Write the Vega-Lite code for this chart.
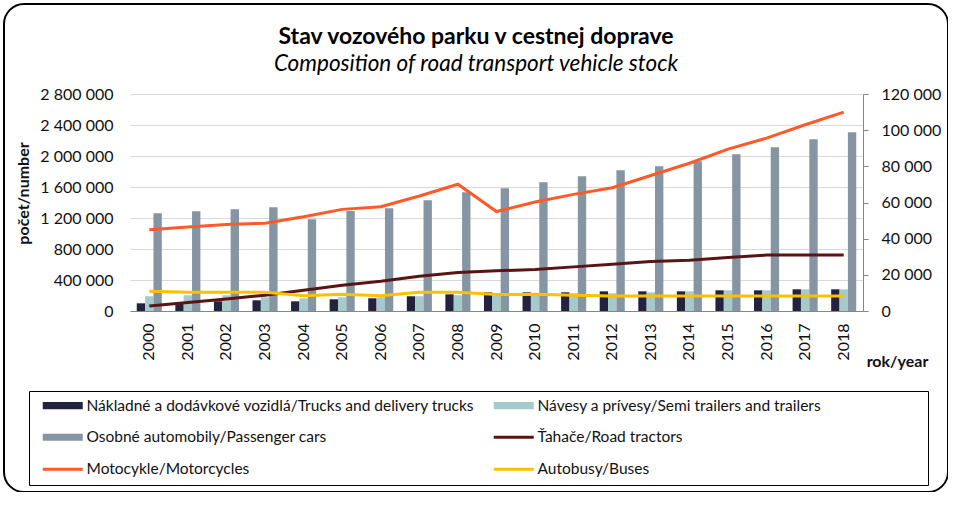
{
  "$schema": "https://vega.github.io/schema/vega-lite/v6.json",
  "width": 944,
  "height": 488,
  "autosize": {"type": "none"},
  "padding": {"left": 4, "top": 4, "right": 0, "bottom": 0},
  "background": "white",
  "config": {
    "font": "Lato",
    "locale": {"number": {"decimal": ",", "thousands": " ", "grouping": [3], "currency": ["", ""]}},
    "view": {"stroke": "#000000", "strokeWidth": 2, "cornerRadius": 20, "fill": "white"},
    "axis": {"labelFont": "Lato", "labelFontSize": 16, "labelColor": "#111111", "titleFont": "Lato", "titleColor": "#111111"}
  },
  "title": {
    "text": "Stav vozového parku v cestnej doprave",
    "subtitle": "Composition of road transport vehicle stock",
    "frame": "group",
    "anchor": "middle",
    "font": "Lato",
    "fontSize": 23,
    "fontWeight": "bold",
    "color": "#000000",
    "subtitleFont": "Lato",
    "subtitleFontSize": 22.5,
    "subtitleFontStyle": "italic",
    "subtitleColor": "#000000",
    "subtitlePadding": 4,
    "offset": -71
  },
  "datasets": {
    "bars": [
      {"year": "2000", "series": "Nákladné a dodávkové vozidlá/Trucks and delivery trucks", "value": 99000},
      {"year": "2001", "series": "Nákladné a dodávkové vozidlá/Trucks and delivery trucks", "value": 100000},
      {"year": "2002", "series": "Nákladné a dodávkové vozidlá/Trucks and delivery trucks", "value": 125000},
      {"year": "2003", "series": "Nákladné a dodávkové vozidlá/Trucks and delivery trucks", "value": 138000},
      {"year": "2004", "series": "Nákladné a dodávkové vozidlá/Trucks and delivery trucks", "value": 125000},
      {"year": "2005", "series": "Nákladné a dodávkové vozidlá/Trucks and delivery trucks", "value": 151000},
      {"year": "2006", "series": "Nákladné a dodávkové vozidlá/Trucks and delivery trucks", "value": 164000},
      {"year": "2007", "series": "Nákladné a dodávkové vozidlá/Trucks and delivery trucks", "value": 190000},
      {"year": "2008", "series": "Nákladné a dodávkové vozidlá/Trucks and delivery trucks", "value": 215000},
      {"year": "2009", "series": "Nákladné a dodávkové vozidlá/Trucks and delivery trucks", "value": 241000},
      {"year": "2010", "series": "Nákladné a dodávkové vozidlá/Trucks and delivery trucks", "value": 241000},
      {"year": "2011", "series": "Nákladné a dodávkové vozidlá/Trucks and delivery trucks", "value": 241000},
      {"year": "2012", "series": "Nákladné a dodávkové vozidlá/Trucks and delivery trucks", "value": 254000},
      {"year": "2013", "series": "Nákladné a dodávkové vozidlá/Trucks and delivery trucks", "value": 254000},
      {"year": "2014", "series": "Nákladné a dodávkové vozidlá/Trucks and delivery trucks", "value": 254000},
      {"year": "2015", "series": "Nákladné a dodávkové vozidlá/Trucks and delivery trucks", "value": 267000},
      {"year": "2016", "series": "Nákladné a dodávkové vozidlá/Trucks and delivery trucks", "value": 267000},
      {"year": "2017", "series": "Nákladné a dodávkové vozidlá/Trucks and delivery trucks", "value": 280000},
      {"year": "2018", "series": "Nákladné a dodávkové vozidlá/Trucks and delivery trucks", "value": 280000},
      {"year": "2000", "series": "Návesy a prívesy/Semi trailers and trailers", "value": 190000},
      {"year": "2001", "series": "Návesy a prívesy/Semi trailers and trailers", "value": 203000},
      {"year": "2002", "series": "Návesy a prívesy/Semi trailers and trailers", "value": 203000},
      {"year": "2003", "series": "Návesy a prívesy/Semi trailers and trailers", "value": 177000},
      {"year": "2004", "series": "Návesy a prívesy/Semi trailers and trailers", "value": 164000},
      {"year": "2005", "series": "Návesy a prívesy/Semi trailers and trailers", "value": 177000},
      {"year": "2006", "series": "Návesy a prívesy/Semi trailers and trailers", "value": 177000},
      {"year": "2007", "series": "Návesy a prívesy/Semi trailers and trailers", "value": 190000},
      {"year": "2008", "series": "Návesy a prívesy/Semi trailers and trailers", "value": 203000},
      {"year": "2009", "series": "Návesy a prívesy/Semi trailers and trailers", "value": 195000},
      {"year": "2010", "series": "Návesy a prívesy/Semi trailers and trailers", "value": 203000},
      {"year": "2011", "series": "Návesy a prívesy/Semi trailers and trailers", "value": 228000},
      {"year": "2012", "series": "Návesy a prívesy/Semi trailers and trailers", "value": 228000},
      {"year": "2013", "series": "Návesy a prívesy/Semi trailers and trailers", "value": 241000},
      {"year": "2014", "series": "Návesy a prívesy/Semi trailers and trailers", "value": 254000},
      {"year": "2015", "series": "Návesy a prívesy/Semi trailers and trailers", "value": 267000},
      {"year": "2016", "series": "Návesy a prívesy/Semi trailers and trailers", "value": 267000},
      {"year": "2017", "series": "Návesy a prívesy/Semi trailers and trailers", "value": 280000},
      {"year": "2018", "series": "Návesy a prívesy/Semi trailers and trailers", "value": 280000},
      {"year": "2000", "series": "Osobné automobily/Passenger cars", "value": 1260000},
      {"year": "2001", "series": "Osobné automobily/Passenger cars", "value": 1286000},
      {"year": "2002", "series": "Osobné automobily/Passenger cars", "value": 1312000},
      {"year": "2003", "series": "Osobné automobily/Passenger cars", "value": 1338000},
      {"year": "2004", "series": "Osobné automobily/Passenger cars", "value": 1183000},
      {"year": "2005", "series": "Osobné automobily/Passenger cars", "value": 1290000},
      {"year": "2006", "series": "Osobné automobily/Passenger cars", "value": 1325000},
      {"year": "2007", "series": "Osobné automobily/Passenger cars", "value": 1428000},
      {"year": "2008", "series": "Osobné automobily/Passenger cars", "value": 1532000},
      {"year": "2009", "series": "Osobné automobily/Passenger cars", "value": 1583000},
      {"year": "2010", "series": "Osobné automobily/Passenger cars", "value": 1661000},
      {"year": "2011", "series": "Osobné automobily/Passenger cars", "value": 1738000},
      {"year": "2012", "series": "Osobné automobily/Passenger cars", "value": 1815000},
      {"year": "2013", "series": "Osobné automobily/Passenger cars", "value": 1867000},
      {"year": "2014", "series": "Osobné automobily/Passenger cars", "value": 1932000},
      {"year": "2015", "series": "Osobné automobily/Passenger cars", "value": 2022000},
      {"year": "2016", "series": "Osobné automobily/Passenger cars", "value": 2112000},
      {"year": "2017", "series": "Osobné automobily/Passenger cars", "value": 2215000},
      {"year": "2018", "series": "Osobné automobily/Passenger cars", "value": 2306000}
    ],
    "lines": [
      {"year": "2000", "series": "Ťahače/Road tractors", "value": 2800},
      {"year": "2001", "series": "Ťahače/Road tractors", "value": 4700},
      {"year": "2002", "series": "Ťahače/Road tractors", "value": 6700},
      {"year": "2003", "series": "Ťahače/Road tractors", "value": 8700},
      {"year": "2004", "series": "Ťahače/Road tractors", "value": 11500},
      {"year": "2005", "series": "Ťahače/Road tractors", "value": 14300},
      {"year": "2006", "series": "Ťahače/Road tractors", "value": 16500},
      {"year": "2007", "series": "Ťahače/Road tractors", "value": 19200},
      {"year": "2008", "series": "Ťahače/Road tractors", "value": 21300},
      {"year": "2009", "series": "Ťahače/Road tractors", "value": 22200},
      {"year": "2010", "series": "Ťahače/Road tractors", "value": 23000},
      {"year": "2011", "series": "Ťahače/Road tractors", "value": 24400},
      {"year": "2012", "series": "Ťahače/Road tractors", "value": 25900},
      {"year": "2013", "series": "Ťahače/Road tractors", "value": 27400},
      {"year": "2014", "series": "Ťahače/Road tractors", "value": 28100},
      {"year": "2015", "series": "Ťahače/Road tractors", "value": 29600},
      {"year": "2016", "series": "Ťahače/Road tractors", "value": 30900},
      {"year": "2017", "series": "Ťahače/Road tractors", "value": 30900},
      {"year": "2018", "series": "Ťahače/Road tractors", "value": 30900},
      {"year": "2000", "series": "Motocykle/Motorcycles", "value": 44900},
      {"year": "2001", "series": "Motocykle/Motorcycles", "value": 46400},
      {"year": "2002", "series": "Motocykle/Motorcycles", "value": 47900},
      {"year": "2003", "series": "Motocykle/Motorcycles", "value": 48500},
      {"year": "2004", "series": "Motocykle/Motorcycles", "value": 52100},
      {"year": "2005", "series": "Motocykle/Motorcycles", "value": 56200},
      {"year": "2006", "series": "Motocykle/Motorcycles", "value": 57700},
      {"year": "2007", "series": "Motocykle/Motorcycles", "value": 63600},
      {"year": "2008", "series": "Motocykle/Motorcycles", "value": 70100},
      {"year": "2009", "series": "Motocykle/Motorcycles", "value": 55000},
      {"year": "2010", "series": "Motocykle/Motorcycles", "value": 60300},
      {"year": "2011", "series": "Motocykle/Motorcycles", "value": 64500},
      {"year": "2012", "series": "Motocykle/Motorcycles", "value": 68200},
      {"year": "2013", "series": "Motocykle/Motorcycles", "value": 74900},
      {"year": "2014", "series": "Motocykle/Motorcycles", "value": 81700},
      {"year": "2015", "series": "Motocykle/Motorcycles", "value": 89500},
      {"year": "2016", "series": "Motocykle/Motorcycles", "value": 95600},
      {"year": "2017", "series": "Motocykle/Motorcycles", "value": 103000},
      {"year": "2018", "series": "Motocykle/Motorcycles", "value": 110000},
      {"year": "2000", "series": "Autobusy/Buses", "value": 10900},
      {"year": "2001", "series": "Autobusy/Buses", "value": 10400},
      {"year": "2002", "series": "Autobusy/Buses", "value": 10300},
      {"year": "2003", "series": "Autobusy/Buses", "value": 10300},
      {"year": "2004", "series": "Autobusy/Buses", "value": 8500},
      {"year": "2005", "series": "Autobusy/Buses", "value": 9300},
      {"year": "2006", "series": "Autobusy/Buses", "value": 8500},
      {"year": "2007", "series": "Autobusy/Buses", "value": 10400},
      {"year": "2008", "series": "Autobusy/Buses", "value": 10400},
      {"year": "2009", "series": "Autobusy/Buses", "value": 9100},
      {"year": "2010", "series": "Autobusy/Buses", "value": 9300},
      {"year": "2011", "series": "Autobusy/Buses", "value": 8700},
      {"year": "2012", "series": "Autobusy/Buses", "value": 8300},
      {"year": "2013", "series": "Autobusy/Buses", "value": 8300},
      {"year": "2014", "series": "Autobusy/Buses", "value": 8300},
      {"year": "2015", "series": "Autobusy/Buses", "value": 8300},
      {"year": "2016", "series": "Autobusy/Buses", "value": 8300},
      {"year": "2017", "series": "Autobusy/Buses", "value": 8300},
      {"year": "2018", "series": "Autobusy/Buses", "value": 8300}
    ]
  },
  "layer": [
    {
      "data": {"name": "bars"},
      "mark": {"type": "bar"},
      "encoding": {
        "x": {
          "field": "year", "type": "ordinal",
          "scale": {"range": [126, 859], "paddingInner": 0.35, "paddingOuter": 0.175},
          "axis": {
            "orient": "bottom", "offset": -181, "domainColor": "#868686", "domainWidth": 1,
            "ticks": false, "labelAngle": -90, "labelPadding": 12, "labelFontSize": 16,
            "grid": false,
            "title": "rok/year", "titleFontSize": 16, "titleFontWeight": "bold",
            "titleX": 893, "titleY": 55, "titleAlign": "center", "titleBaseline": "alphabetic", "titleAngle": 0
          }
        },
        "xOffset": {
          "field": "series", "type": "nominal",
          "scale": {"domain": ["Nákladné a dodávkové vozidlá/Trucks and delivery trucks", "Návesy a prívesy/Semi trailers and trailers", "Osobné automobily/Passenger cars"]}
        },
        "y": {
          "field": "value", "type": "quantitative",
          "scale": {"domain": [0, 2800000], "range": [307, 90], "nice": false, "zero": true},
          "axis": {
            "orient": "left", "offset": -126,
            "values": [0, 400000, 800000, 1200000, 1600000, 2000000, 2400000, 2800000],
            "format": ",d", "grid": true, "gridColor": "#D9D9D9", "gridWidth": 1,
            "domain": false, "ticks": false, "labelPadding": 17, "labelFontSize": 16,
            "title": "počet/number", "titleFontSize": 16, "titleFontWeight": "bold",
            "titleX": -102, "titleY": 189, "titleAngle": -90, "titleAlign": "center", "titleBaseline": "alphabetic"
          }
        },
        "color": {
          "field": "series", "type": "nominal",
          "scale": {
            "domain": ["Nákladné a dodávkové vozidlá/Trucks and delivery trucks", "Návesy a prívesy/Semi trailers and trailers", "Osobné automobily/Passenger cars", "Ťahače/Road tractors", "Motocykle/Motorcycles", "Autobusy/Buses"],
            "range": ["#23223F", "#A6CACA", "#8595A4", "#5A1414", "#FF5A28", "#FFC000"]
          },
          "legend": {
            "title": " ", "titleOrient": "right", "titlePadding": 100, "titleFontSize": 8,
            "orient": "none", "legendX": 25, "legendY": 387, "direction": "horizontal",
            "columns": 2, "gridAlign": "all", "columnPadding": 12, "rowPadding": 15,
            "padding": 6.5, "strokeColor": "#000000", "fillColor": "white",
            "labelFont": "Lato", "labelFontSize": 15.5, "labelColor": "#111111", "labelLimit": 700,
            "labelOffset": 16, "symbolOffset": 19.5, "symbolSize": 256,
            "encode": {
              "symbols": {
                "update": {
                  "shape": {"signal": "indexof(['Ťahače/Road tractors','Motocykle/Motorcycles','Autobusy/Buses'], datum.value) >= 0 ? 'M-2.5,0H2.5' : 'M-2.5,-0.44H2.5V0.44H-2.5Z'"},
                  "fill": {"signal": "indexof(['Ťahače/Road tractors','Motocykle/Motorcycles','Autobusy/Buses'], datum.value) >= 0 ? 'transparent' : scale('color', datum.value)"},
                  "stroke": {"signal": "scale('color', datum.value)"},
                  "strokeWidth": {"signal": "indexof(['Ťahače/Road tractors','Motocykle/Motorcycles','Autobusy/Buses'], datum.value) >= 0 ? 3 : 0"}
                }
              }
            }
          }
        }
      }
    },
    {
      "data": {"name": "lines"},
      "mark": {"type": "line", "strokeWidth": 3},
      "encoding": {
        "x": {"field": "year", "type": "ordinal"},
        "y": {
          "field": "value", "type": "quantitative",
          "scale": {"domain": [0, 120000], "range": [307, 90], "nice": false, "zero": true},
          "axis": {
            "orient": "right", "offset": -85,
            "values": [0, 20000, 40000, 60000, 80000, 100000, 120000],
            "format": ",d", "grid": false, "domain": true, "domainColor": "#868686",
            "ticks": true, "tickColor": "#868686", "tickSize": 5, "labelPadding": 13,
            "labelFontSize": 16, "title": null
          }
        },
        "color": {"field": "series", "type": "nominal"}
      }
    }
  ],
  "resolve": {"scale": {"y": "independent"}}
}
